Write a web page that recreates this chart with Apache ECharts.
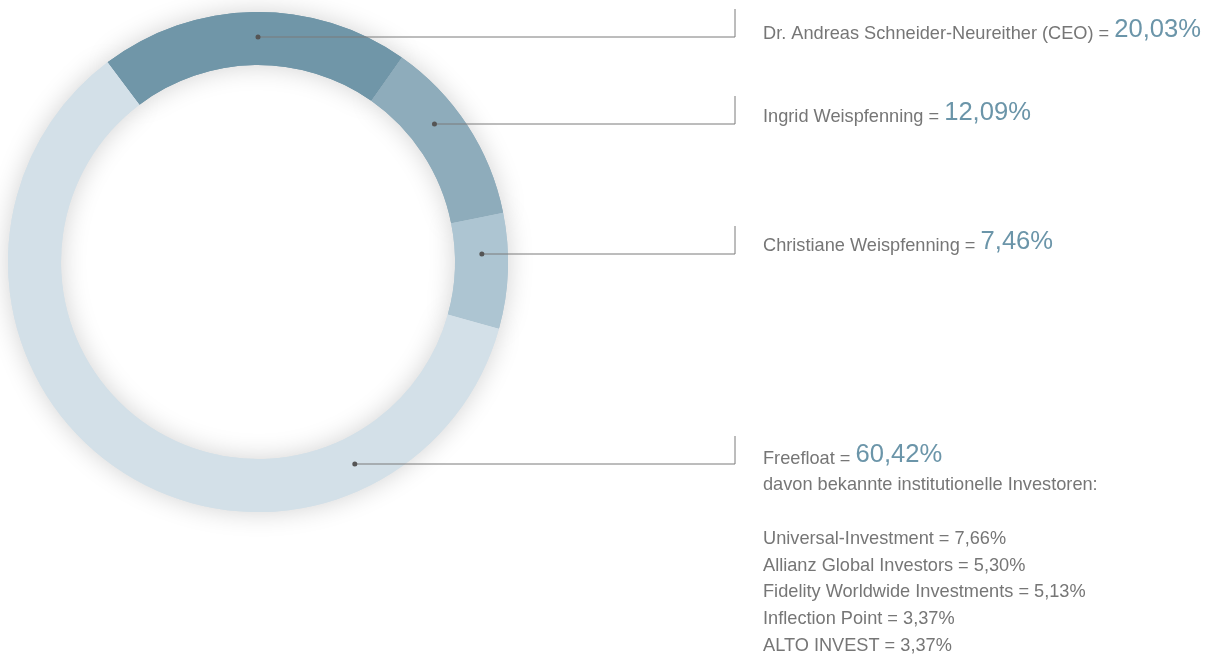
<!DOCTYPE html>
<html>
<head>
<meta charset="utf-8">
<script src="https://cdn.jsdelivr.net/npm/echarts@6/dist/echarts.min.js"></script>
<style>
html,body{margin:0;padding:0;background:#fff;}
#main{width:1211px;height:657px;}
</style>
</head>
<body>
<div id="main"></div>
<script>
// ---- data ----
const holderNames = ['Dr. Andreas Schneider-Neureither (CEO)', 'Ingrid Weispfenning', 'Christiane Weispfenning', 'Freefloat'];
const holderValues = [20.03, 12.09, 7.46, 60.42];
const holderColors = ['#7096a8', '#8eacbb', '#adc5d2', '#d3e0e8'];
const freefloatNote = 'davon bekannte institutionelle Investoren:';
const investorNames = ['Universal-Investment', 'Allianz Global Investors', 'Fidelity Worldwide Investments', 'Inflection Point', 'ALTO INVEST'];
const investorValues = [7.66, 5.30, 5.13, 3.37, 3.37];

// ---- layout ----
const CX = 258, CY = 262, R_IN = 197, R_OUT = 250, R_DOT = 224;
const lineYs = [37, 124, 254, 464];
const textBaselines = [40.5, 123.5, 252.5, 465];
const ELBOW_X = 735, ELBOW_H = 28, TEXT_X = 763, LINE_H = 26.7;
const FONT = '"Liberation Sans", Arial, Helvetica, sans-serif';
const TEXT_COLOR = '#767676', ACCENT = '#6b95a9';
const BASE_SIZE = 18.2, ACCENT_SIZE = 25.6;

function fmt(v) { return v.toFixed(2).replace('.', ','); }
function dotX(y) {
  const dy = y - CY;
  return CX + Math.sqrt(Math.max(0, R_DOT * R_DOT - dy * dy));
}

const data = holderNames.map((n, i) => ({
  name: n, value: holderValues[i], itemStyle: { color: holderColors[i] }
}));
const labelData = holderNames.map((n, i) => ({
  name: n, value: holderValues[i], itemStyle: { color: 'rgba(0,0,0,0)' }
}));

const chart = echarts.init(document.getElementById('main'), null, { renderer: 'canvas' });

const richStyles = {
  t: { fontFamily: FONT, fontWeight: 'normal', fontSize: BASE_SIZE, color: TEXT_COLOR, lineHeight: LINE_H, verticalAlign: 'bottom' },
  v: { fontFamily: FONT, fontWeight: 'normal', fontSize: ACCENT_SIZE, color: ACCENT, lineHeight: LINE_H, verticalAlign: 'bottom' }
};

const pieBase = {
  type: 'pie', center: [CX, CY], radius: [R_IN, R_OUT], startAngle: 127, clockwise: true,
  avoidLabelOverlap: false
};

chart.setOption({
  backgroundColor: '#fff',
  animation: false,
  series: [
    Object.assign({}, pieBase, {
      // shadow layer
      silent: true, z: 1,
      label: { show: false }, labelLine: { show: false },
      itemStyle: { shadowBlur: 26, shadowColor: 'rgba(0,0,0,0.18)' },
      data: data
    }),
    Object.assign({}, pieBase, {
      z: 2, silent: true,
      label: { show: false }, labelLine: { show: false },
      itemStyle: { borderWidth: 0 },
      data: data
    }),
    Object.assign({}, pieBase, {
      z: 3,
      itemStyle: { borderWidth: 0 },
      label: {
        show: true, position: 'outside',
        formatter: function (p) {
          let s = '{t|' + p.name + ' = }{v|' + fmt(p.value) + '%}';
          if (p.dataIndex === 3) {
            s += '\n{t|' + freefloatNote + '}\n{t| }';
            investorNames.forEach((n, i) => { s += '\n{t|' + n + ' = ' + fmt(investorValues[i]) + '%}'; });
          }
          return s;
        },
        rich: richStyles
      },
      labelLine: { show: true, smooth: false, lineStyle: { color: '#7a7a7a', width: 1 } },
      labelLayout: function (params) {
        const i = params.dataIndex;
        const ly = lineYs[i];
        const center = textBaselines[i] + 0.15 * BASE_SIZE - LINE_H / 2;
        return {
          x: TEXT_X,
          y: i === 3 ? center - LINE_H / 2 : center,
          align: 'left',
          verticalAlign: i === 3 ? 'top' : 'middle',
          labelLinePoints: [[dotX(ly), ly], [ELBOW_X, ly], [ELBOW_X, ly - ELBOW_H]]
        };
      },
      data: labelData
    })
  ],
  graphic: lineYs.map(y => ({
    type: 'circle', z: 100,
    shape: { cx: dotX(y), cy: y, r: 2.5 },
    style: { fill: '#555' }
  }))
});
</script>
</body>
</html>
